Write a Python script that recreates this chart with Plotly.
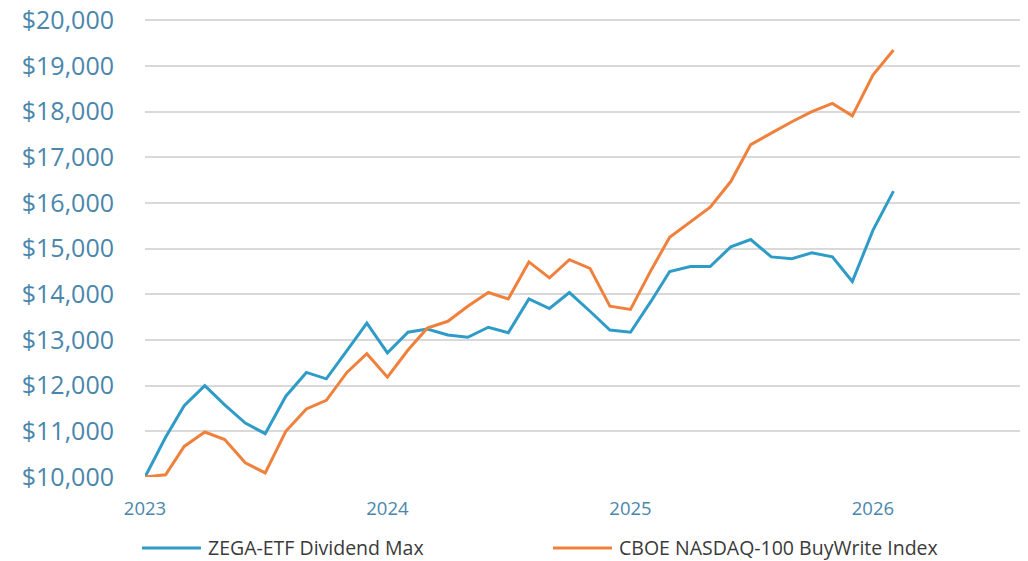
import pandas as pd
import plotly.graph_objects as go

dates = pd.date_range("2023-01-01", "2026-02-01", freq="MS")
zega = [10000, 10870, 11560, 12000, 11580, 11180, 10950, 11770, 12290, 12150, 12770, 13370,
        12720, 13170, 13240, 13110, 13060, 13280, 13160, 13900, 13690, 14040, 13630, 13220,
        13170, 13850, 14500, 14610, 14610, 15040, 15200, 14820, 14780, 14910, 14820, 14280,
        15400, 16260]
cboe = [10000, 10050, 10670, 10985, 10820, 10310, 10090, 11000, 11490, 11680, 12290, 12700,
        12185, 12780, 13260, 13410, 13740, 14040, 13900, 14710, 14360, 14760, 14570, 13740,
        13670, 14530, 15250, 15590, 15910, 16470, 17280, 17530, 17780, 18000, 18180, 17910,
        18800, 19350]
series_names = ["ZEGA-ETF Dividend Max", "CBOE NASDAQ-100 BuyWrite Index"]
series_colors = ["#2f9bc7", "#f0813d"]
year_ticks = ["2023-01-01", "2024-01-01", "2025-01-01", "2026-01-01"]
year_labels = ["2023", "2024", "2025", "2026"]
y_ticks = list(range(10000, 20001, 1000))

fig = go.Figure()
for name, vals, col in zip(series_names, [zega, cboe], series_colors):
    fig.add_trace(go.Scatter(x=dates, y=vals, name=name, mode="lines",
                             line=dict(color=col, width=3)))

# legend drawn below the plot (swatch + label), paper coordinates
legend_y = -0.155
legend_pos = [(-0.0034, 0.0636, 0.0693), (0.4636, 0.5307, 0.5364)]
for (x0, x1, xt), name, col in zip(legend_pos, series_names, series_colors):
    fig.add_shape(type="line", xref="paper", yref="paper", x0=x0, x1=x1,
                  y0=legend_y, y1=legend_y, line=dict(color=col, width=3))
    fig.add_annotation(xref="paper", yref="paper", x=xt, y=legend_y, text=name,
                       showarrow=False, xanchor="left", yanchor="middle",
                       font=dict(size=19.5, color="#3a3a3a"))

fig.update_layout(
    width=1020, height=553,
    margin=dict(l=137, r=3, t=11, b=84),
    paper_bgcolor="white", plot_bgcolor="white",
    font=dict(family="Open Sans", color="#333333"),
    showlegend=False,
    xaxis=dict(type="date", range=["2023-01-01", "2026-08-18"],
               tickvals=year_ticks, ticktext=year_labels, automargin=False,
               showgrid=False, zeroline=False, showline=False, ticks="",
               tickfont=dict(size=18.5, color="#4a86ab"), ticklabelstandoff=18),
    yaxis=dict(range=[10000, 20030], tickvals=y_ticks, tickformat="$,.0f",
               automargin=False, ticklabeloverflow="allow",
               showgrid=True, gridcolor="#d9d9d9", gridwidth=2,
               zeroline=False, showline=False, ticks="",
               tickfont=dict(size=25, color="#4a86ab"), ticklabelstandoff=30),
)
fig.write_html("out.html")
